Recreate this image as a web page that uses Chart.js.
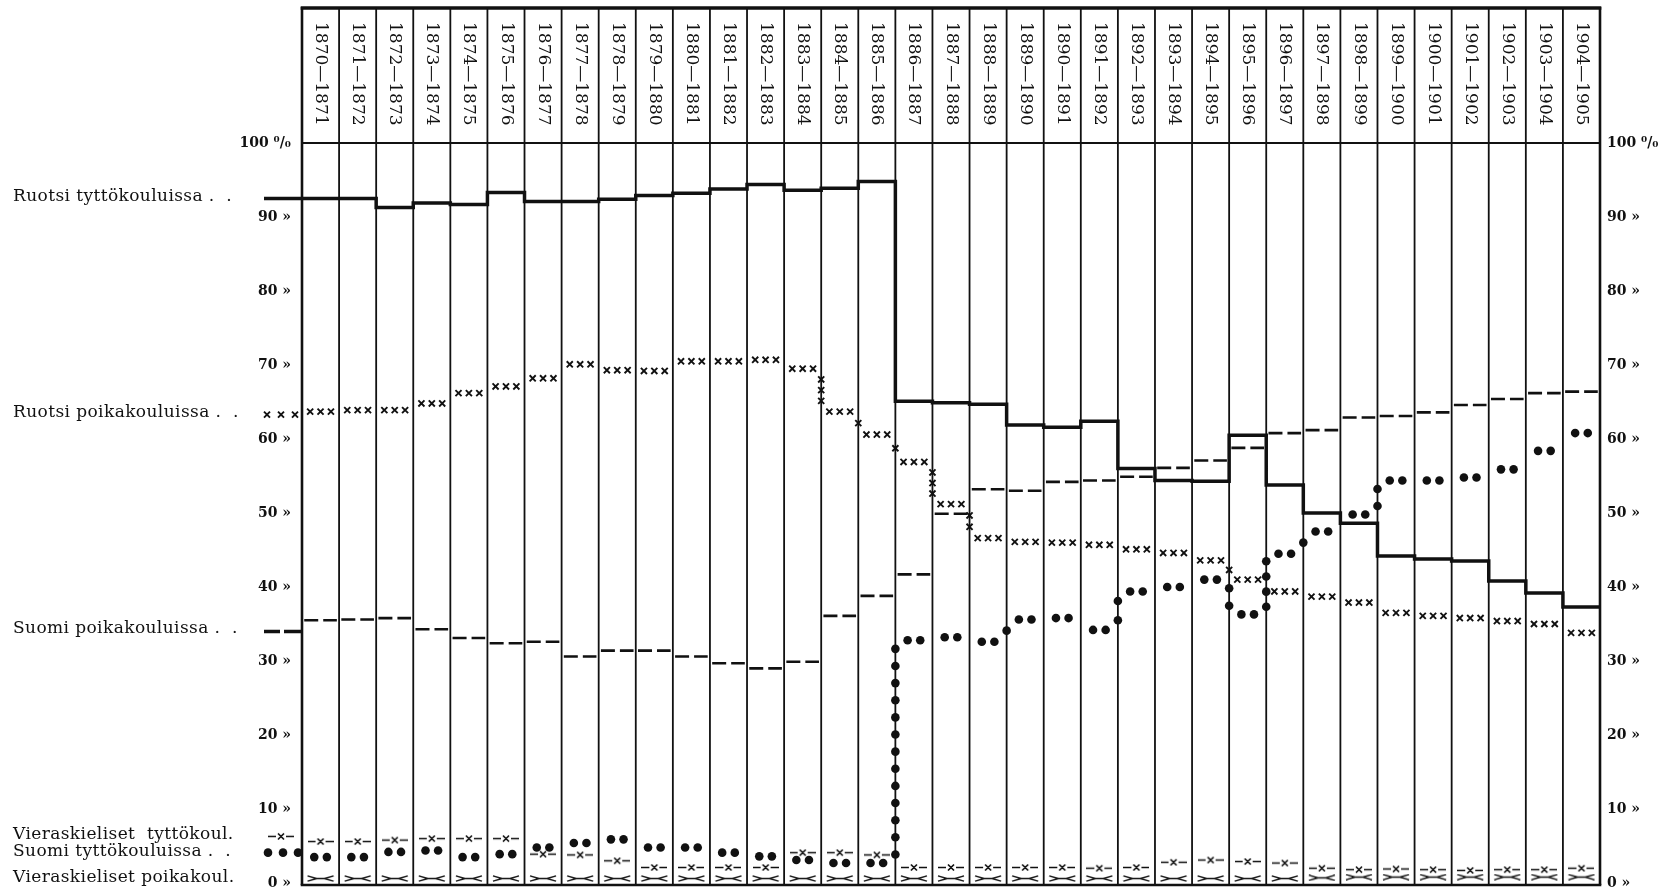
<!DOCTYPE html>
<html>
<head>
<meta charset="utf-8">
<script src="https://cdn.jsdelivr.net/npm/chart.js@4.4.1/dist/chart.umd.min.js"></script>
<style>
  html, body { margin: 0; padding: 0; background: #ffffff; }
  #c { display: block; }
</style>
</head>
<body>
<canvas id="c" width="1658" height="891"></canvas>
<script>
// ---------- DATA ----------
const periods = ["1870—1871","1871—1872","1872—1873","1873—1874","1874—1875","1875—1876","1876—1877",
  "1877—1878","1878—1879","1879—1880","1880—1881","1881—1882","1882—1883","1883—1884","1884—1885",
  "1885—1886","1886—1887","1887—1888","1888—1889","1889—1890","1890—1891","1891—1892","1892—1893",
  "1893—1894","1894—1895","1895—1896","1896—1897","1897—1898","1898—1899","1899—1900","1900—1901",
  "1901—1902","1902—1903","1903—1904","1904—1905"];

// Ruotsi tyttökouluissa (%)
const ruotsiTytto = [92.5, 92.5, 91.3, 91.9, 91.7, 93.3, 92.1, 92.1, 92.4, 92.9, 93.2, 93.8, 94.4, 93.6, 93.9, 94.8,
  65.1, 64.9, 64.7, 61.9, 61.6, 62.4, 56.0, 54.4, 54.3, 60.5, 53.8, 50.0, 48.6, 44.2, 43.8, 43.5, 40.8, 39.2, 37.3];
// Ruotsi poikakouluissa (%)
const ruotsiPoika = [63.7, 63.9, 63.9, 64.8, 66.2, 67.1, 68.2, 70.1, 69.3, 69.2, 70.5, 70.5, 70.7, 69.5, 63.7, 60.6,
  56.9, 51.2, 46.6, 46.1, 46.0, 45.7, 45.1, 44.6, 43.6, 41.0, 39.4, 38.7, 37.9, 36.5, 36.1, 35.8, 35.4, 35.0, 33.8];
// Suomi poikakouluissa (%)
const suomiPoika = [35.5, 35.6, 35.8, 34.3, 33.1, 32.4, 32.6, 30.6, 31.4, 31.4, 30.6, 29.7, 29.0, 29.9, 36.1, 38.8,
  41.7, 49.9, 53.2, 53.0, 54.2, 54.4, 54.9, 56.1, 57.1, 58.8, 60.8, 61.2, 62.9, 63.1, 63.6, 64.6, 65.4, 66.2, 66.4];
// Suomi tyttökouluissa (%)
const suomiTytto = [3.5, 3.5, 4.2, 4.4, 3.5, 3.9, 4.8, 5.4, 5.9, 4.8, 4.8, 4.1, 3.6, 3.1, 2.7, 2.7,
  32.8, 33.2, 32.6, 35.6, 35.8, 34.2, 39.4, 40.0, 41.0, 36.3, 44.5, 47.5, 49.8, 54.4, 54.4, 54.8, 55.9, 58.4, 60.8];
// Vieraskieliset tyttökoulut (%)
const vierasTytto = [5.6, 5.6, 5.8, 6.0, 6.0, 6.0, 3.9, 3.8, 3.0, 2.1, 2.1, 2.1, 2.1, 4.1, 4.1, 3.8,
  2.1, 2.1, 2.1, 2.1, 2.1, 2.0, 2.1, 2.8, 3.1, 2.9, 2.7, 2.0, 1.8, 1.9, 1.8, 1.7, 1.8, 1.8, 2.0];
// Vieraskieliset poikakoulut (%)
const vierasPoika = [0.6, 0.6, 0.6, 0.6, 0.6, 0.6, 0.6, 0.6, 0.6, 0.6, 0.6, 0.6, 0.6, 0.6, 0.6, 0.6,
  0.6, 0.6, 0.6, 0.6, 0.6, 0.6, 0.6, 0.6, 0.6, 0.6, 0.6, 0.7, 0.8, 0.8, 0.8, 0.8, 0.8, 0.8, 0.8];

const yTickValues = [0, 10, 20, 30, 40, 50, 60, 70, 80, 90, 100];
const seriesNames = ["Ruotsi tyttökouluissa .  .", "Ruotsi poikakouluissa .  .", "Suomi poikakouluissa .  .",
  "Vieraskieliset  tyttökoul.", "Suomi tyttökouluissa .  .", "Vieraskieliset poikakoul."];

// ---------- helpers building library data from the arrays ----------
function stepData(vals) {
  const pts = vals.map((v, i) => ({ x: i, y: v }));
  pts.push({ x: vals.length, y: vals[vals.length - 1] });
  return pts;
}
function dashData(vals) {
  const pts = [];
  vals.forEach((v, i) => { pts.push({ x: i + 0.06, y: v }, { x: i + 0.94, y: v }, { x: i + 0.97, y: null }); });
  return pts;
}
function markData(vals, offsets, mode) {
  const pts = [];
  vals.forEach((v, i) => {
    offsets.forEach(o => pts.push({ x: i + o, y: v }));
    if (i > 0) {
      const a = vals[i - 1], d = Math.abs(v - a);
      if (mode === 'cross') {
        const n = Math.max(0, Math.round(d / 1.5) - 1);
        for (let k = 0; k < n; k++) pts.push({ x: i, y: a + (v - a) * (k + 1) / (n + 1) });
      } else if (mode === 'dot' && d > 2.5) {
        const n = Math.round(d / 2.3);
        for (let k = 0; k < n; k++) pts.push({ x: i, y: a + (v - a) * (k + 0.5) / n });
      }
    }
  });
  return pts;
}
function centerData(vals) { return vals.map((v, i) => ({ x: i + 0.5, y: v })); }

function makeVX() {
  const c = document.createElement('canvas'); c.width = 26; c.height = 9;
  const g = c.getContext('2d'); g.strokeStyle = '#111'; g.lineWidth = 1.7;
  g.beginPath();
  g.moveTo(0, 4.5); g.lineTo(8, 4.5); g.moveTo(18, 4.5); g.lineTo(26, 4.5);
  g.moveTo(10, 1.5); g.lineTo(16, 7.5); g.moveTo(10, 7.5); g.lineTo(16, 1.5);
  g.stroke(); return c;
}
function makeBow() {
  const c = document.createElement('canvas'); c.width = 28; c.height = 7;
  const g = c.getContext('2d'); g.strokeStyle = '#111'; g.lineWidth = 1.4;
  g.beginPath();
  g.moveTo(1, 0.8); g.lineTo(10, 3.5); g.lineTo(18, 3.5); g.lineTo(27, 6.2);
  g.moveTo(1, 6.2); g.lineTo(10, 3.5); g.moveTo(18, 3.5); g.lineTo(27, 0.8);
  g.stroke(); return c;
}
const vxImg = makeVX();
const bowImg = makeBow();

function tickLabel(v) { return v === 100 ? '100 ⁰/₀' : v + ' »'; }

const INK = '#111';
const serif = 'DejaVu Serif';

const framePlugin = {
  id: 'frame',
  beforeDatasetsDraw(chart, args, o) {
    const { ctx, chartArea: a, scales: { x, y } } = chart;
    ctx.save();
    ctx.strokeStyle = INK;
    const n = periods.length;
    for (let i = 0; i <= n; i++) {
      const px = x.getPixelForValue(i);
      ctx.lineWidth = (i === 0 || i === n) ? 2.6 : 1.8;
      ctx.beginPath(); ctx.moveTo(px, o.frameTop); ctx.lineTo(px, a.bottom + 2); ctx.stroke();
    }
    const l = x.getPixelForValue(0), r = x.getPixelForValue(n);
    ctx.lineWidth = 3.5;
    ctx.beginPath(); ctx.moveTo(l - 1.3, o.frameTop + 1); ctx.lineTo(r + 1.3, o.frameTop + 1); ctx.stroke();
    ctx.lineWidth = 2;
    const y100 = y.getPixelForValue(100);
    ctx.beginPath(); ctx.moveTo(l, y100); ctx.lineTo(r, y100); ctx.stroke();
    ctx.lineWidth = 2.5;
    ctx.beginPath(); ctx.moveTo(l - 1.3, a.bottom + 2); ctx.lineTo(r + 1.3, a.bottom + 2); ctx.stroke();

    ctx.fillStyle = INK;
    ctx.font = o.headerFont;
    ctx.textAlign = 'left'; ctx.textBaseline = 'middle';
    periods.forEach((p, i) => {
      ctx.save();
      ctx.translate(x.getPixelForValue(i + 0.5), o.headerTextTop);
      ctx.rotate(Math.PI / 2);
      ctx.fillText(p, 0, 0);
      ctx.restore();
    });
    ctx.restore();
  },
  afterDraw(chart, args, o) {
    const { ctx, chartArea: a, scales: { y } } = chart;
    ctx.save();
    ctx.fillStyle = INK; ctx.strokeStyle = INK;
    ctx.font = o.labelFont; ctx.textAlign = 'left'; ctx.textBaseline = 'middle';
    if ('letterSpacing' in ctx) ctx.letterSpacing = o.labelSpacing;
    o.rows.forEach(row => {
      ctx.fillText(row.text, o.labelX, y.getPixelForValue(row.value));
      const sy = y.getPixelForValue(row.sampleValue);
      const s0 = a.left - 38;
      if (row.sample === 'thick') {
        ctx.lineWidth = 3.5; ctx.beginPath(); ctx.moveTo(s0, sy); ctx.lineTo(a.left, sy); ctx.stroke();
      } else if (row.sample === 'cross') {
        ctx.lineWidth = 1.9;
        [s0 + 3, s0 + 17, s0 + 31].forEach(cx => {
          ctx.beginPath(); ctx.moveTo(cx - 3, sy - 3); ctx.lineTo(cx + 3, sy + 3);
          ctx.moveTo(cx - 3, sy + 3); ctx.lineTo(cx + 3, sy - 3); ctx.stroke();
        });
      } else if (row.sample === 'dash') {
        ctx.lineWidth = 3.5; ctx.beginPath();
        ctx.moveTo(s0, sy); ctx.lineTo(s0 + 16, sy); ctx.moveTo(s0 + 20, sy); ctx.lineTo(s0 + 37, sy); ctx.stroke();
      } else if (row.sample === 'vx') {
        ctx.drawImage(vxImg, s0 + 4, sy - vxImg.height / 2);
      } else if (row.sample === 'dots') {
        [s0 + 4, s0 + 19, s0 + 34].forEach(cx => { ctx.beginPath(); ctx.arc(cx, sy, 4.3, 0, Math.PI * 2); ctx.fill(); });
      }
    });
    ctx.restore();
  }
};

const axisCommon = {
  min: 0, max: 100,
  grid: { display: false, drawTicks: false },
  border: { display: false },
};
function fitAxis(w) {
  return s => { s.width = w; s.paddingTop = 0; s.paddingBottom = 0; };
}

new Chart(document.getElementById('c'), {
  type: 'line',
  data: {
    datasets: [
      { label: seriesNames[0], data: stepData(ruotsiTytto), stepped: true, borderColor: INK, borderWidth: 3.5,
        pointRadius: 0, fill: false },
      { label: seriesNames[2], data: dashData(suomiPoika), borderColor: INK, borderWidth: 2.6, borderDash: [14, 5],
        pointRadius: 0, spanGaps: false, fill: false },
      { label: seriesNames[1], data: markData(ruotsiPoika, [0.22, 0.5, 0.78], 'cross'), showLine: false,
        pointStyle: 'crossRot', pointRadius: 4.3, pointBorderWidth: 1.9, pointBorderColor: INK },
      { label: seriesNames[4], data: markData(suomiTytto, [0.33, 0.67], 'dot'), showLine: false,
        pointStyle: 'circle', pointRadius: 4.3, pointBorderWidth: 0, pointBackgroundColor: INK },
      { label: seriesNames[3], data: centerData(vierasTytto), showLine: false,
        pointStyle: vxImg, pointRadius: 5 },
      { label: seriesNames[5], data: centerData(vierasPoika), showLine: false,
        pointStyle: bowImg, pointRadius: 5 }
    ]
  },
  options: {
    responsive: false, animation: false, devicePixelRatio: 1,
    layout: { padding: { top: 143, bottom: 8, left: 0, right: 0 } },
    events: [],
    plugins: {
      legend: { display: false }, tooltip: { enabled: false },
      frame: {
        frameTop: 7, headerTextTop: 22,
        headerFont: '17px "DejaVu Serif"',
        labelFont: '17px "DejaVu Serif"', labelSpacing: '0.4px', labelX: 13,
        rows: [
          { text: seriesNames[0], value: 92.7, sample: 'thick', sampleValue: ruotsiTytto[0] },
          { text: seriesNames[1], value: 63.6, sample: 'cross', sampleValue: 63.3 },
          { text: seriesNames[2], value: 34.4, sample: 'dash', sampleValue: 34.0 },
          { text: seriesNames[3], value: 6.6, sample: 'vx', sampleValue: 6.3 },
          { text: seriesNames[4], value: 4.2, sample: 'dots', sampleValue: 4.1 },
          { text: seriesNames[5], value: 0.7, sample: null, sampleValue: 0 }
        ]
      }
    },
    scales: {
      x: { type: 'linear', min: 0, max: periods.length, display: false },
      y: Object.assign({}, axisCommon, {
        position: 'left',
        afterFit: fitAxis(302),
        afterBuildTicks: s => { s.ticks = yTickValues.map(v => ({ value: v })); },
        ticks: { padding: 11, color: INK, font: { family: serif, size: 14, weight: 'bold' }, callback: tickLabel }
      }),
      y2: Object.assign({}, axisCommon, {
        position: 'right',
        afterFit: fitAxis(58),
        afterBuildTicks: s => { s.ticks = yTickValues.map(v => ({ value: v })); },
        ticks: { padding: 7, color: INK, font: { family: serif, size: 14, weight: 'bold' }, callback: tickLabel }
      })
    }
  },
  plugins: [framePlugin]
});
</script>
</body>
</html>
